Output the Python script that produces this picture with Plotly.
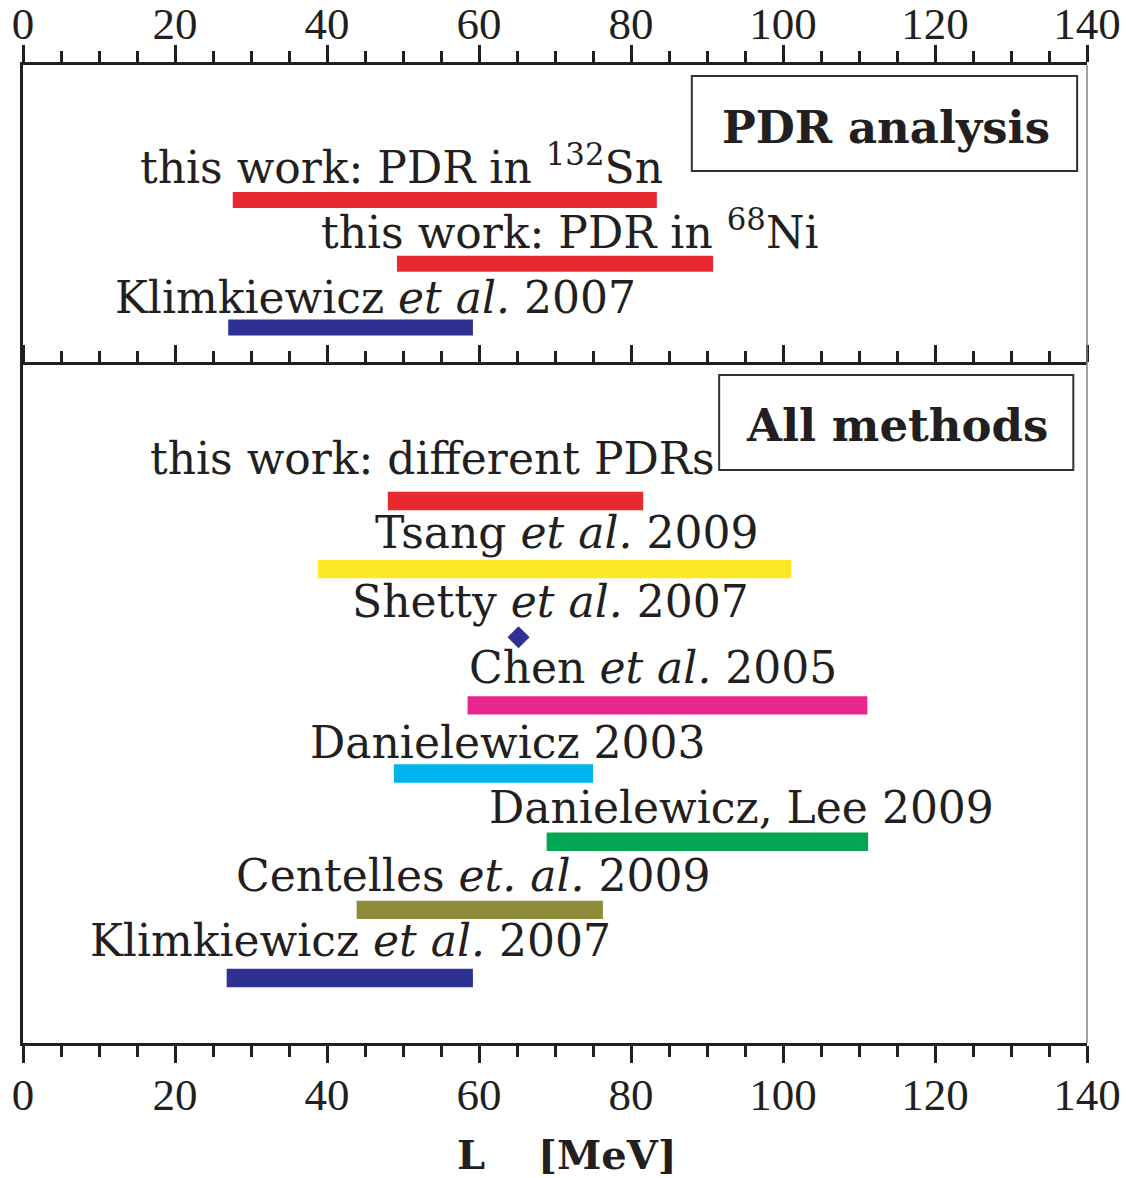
import plotly.graph_objects as go

# ---- Upper panel: PDR analysis ----
pdr_labels = [
    "Klimkiewicz <i>et al.</i> 2007",
    "this work: PDR in <sup>68</sup>Ni",
    "this work: PDR in <sup>132</sup>Sn",
]
pdr_low = [27.0, 49.2, 27.6]
pdr_high = [59.2, 90.8, 83.4]
pdr_colors = ["#2e3192", "#e8292f", "#e8292f"]

# ---- Lower panel: all methods ----
all_labels = [
    "Klimkiewicz <i>et al.</i> 2007",
    "Centelles <i>et. al.</i> 2009",
    "Danielewicz, Lee 2009",
    "Danielewicz 2003",
    "Chen <i>et al.</i> 2005",
    "Shetty <i>et al.</i> 2007",
    "Tsang <i>et al.</i> 2009",
    "this work: different PDRs",
]
all_low = [26.8, 43.9, 68.9, 48.8, 58.5, None, 38.8, 48.0]
all_high = [59.2, 76.3, 111.2, 75.0, 111.1, None, 101.1, 81.6]
all_colors = ["#2e3192", "#8e8b3a", "#00a650", "#00b5ee",
              "#e8268d", "#2e3192", "#fce825", "#e8292f"]
shetty_value = [65.2]  # single estimate, drawn as a point

# tick values of the L axis
x_range = [0, 140]
major_step = 20
minor_step = 5

# label placement (left edge in L units, vertical lift in px)
pdr_label_x = [11.8, 39.0, 15.1]
pdr_label_lift = [30, 34, 36]
all_label_x = [8.5, 27.7, 61.0, 37.5, 58.4, 43.0, 46.0, 16.5]
all_label_lift = [37, 34, 34, 31, 38, 36, 37, 42]

INK = "#231f20"
LABEL_FONT = dict(family="DejaVu Serif", size=44, color=INK)
TICK_FONT = dict(family="Liberation Serif", size=45, color=INK)

fig = go.Figure()

# upper panel bars
pdr_rows = list(range(len(pdr_labels)))
fig.add_trace(go.Bar(
    y=pdr_rows, x=[h - l for l, h in zip(pdr_low, pdr_high)], base=pdr_low,
    orientation="h", width=0.25, marker=dict(color=pdr_colors, line_width=0),
    xaxis="x2", yaxis="y2", showlegend=False, hoverinfo="skip",
))

# lower panel bars (ranges only)
all_rows = list(range(len(all_labels)))
bar_rows = [r for r, l in zip(all_rows, all_low) if l is not None]
bar_low = [l for l in all_low if l is not None]
bar_high = [h for h in all_high if h is not None]
bar_cols = [c for c, l in zip(all_colors, all_low) if l is not None]
fig.add_trace(go.Bar(
    y=bar_rows, x=[h - l for l, h in zip(bar_low, bar_high)], base=bar_low,
    orientation="h", width=0.27, marker=dict(color=bar_cols, line_width=0),
    xaxis="x", yaxis="y", showlegend=False, hoverinfo="skip",
))

# point estimate
shetty_row = all_labels.index("Shetty <i>et al.</i> 2007")
fig.add_trace(go.Scatter(
    x=shetty_value, y=[shetty_row], mode="markers",
    marker=dict(symbol="diamond", size=17, color=all_colors[shetty_row], line_width=0),
    xaxis="x", yaxis="y", showlegend=False, hoverinfo="skip",
))

annotations = []
for r, (txt, lx, lift) in enumerate(zip(pdr_labels, pdr_label_x, pdr_label_lift)):
    annotations.append(dict(x=lx, y=r, xref="x2", yref="y2", text=txt,
                            xanchor="left", yanchor="middle", yshift=lift,
                            showarrow=False, font=LABEL_FONT))
for r, (txt, lx, lift) in enumerate(zip(all_labels, all_label_x, all_label_lift)):
    annotations.append(dict(x=lx, y=r, xref="x", yref="y", text=txt,
                            xanchor="left", yanchor="middle", yshift=lift,
                            showarrow=False, font=LABEL_FONT))

# panel titles in framed boxes
BOX_FONT = dict(family="DejaVu Serif", size=45, color=INK)
annotations.append(dict(x=113.5, y=0.79, xref="x2", yref="y2 domain", text="<b>PDR analysis</b>",
                        xanchor="center", yanchor="middle", showarrow=False, font=BOX_FONT))
annotations.append(dict(x=115.0, y=0.91, xref="x", yref="y domain", text="<b>All methods</b>",
                        xanchor="center", yanchor="middle", showarrow=False, font=BOX_FONT))

# axis title
TITLE_FONT = dict(family="DejaVu Serif", size=40, color=INK)
annotations.append(dict(x=0.4214, y=-0.1145, xref="paper", yref="paper", text="<b>L</b>",
                        xanchor="center", yanchor="middle", showarrow=False, font=TITLE_FONT))
annotations.append(dict(x=0.5493, y=-0.1145, xref="paper", yref="paper", text="<b>[MeV]</b>",
                        xanchor="center", yanchor="middle", showarrow=False, font=TITLE_FONT))

shapes = [
    dict(type="rect", xref="x2", yref="y2 domain", x0=88.0, x1=138.7, y0=0.647, y1=0.963,
         line=dict(color="#333333", width=2), fillcolor="rgba(0,0,0,0)", layer="below"),
    dict(type="rect", xref="x", yref="y domain", x0=91.6, x1=138.2, y0=0.845, y1=0.985,
         line=dict(color="#333333", width=2), fillcolor="rgba(0,0,0,0)", layer="below"),
    dict(type="line", xref="paper", yref="paper", x0=1, x1=1, y0=0, y1=1,
         line=dict(color="#808080", width=1.5)),
]

axis_common = dict(
    range=x_range, tick0=0, dtick=major_step, ticks="outside", ticklen=17, tickwidth=3,
    tickcolor=INK, showline=True, linewidth=3, linecolor=INK, showgrid=False, zeroline=False,
    tickfont=TICK_FONT, automargin=False,
    minor=dict(dtick=minor_step, ticks="outside", ticklen=11, tickwidth=2.5, tickcolor=INK,
               showgrid=False),
)

split = 0.6933
fig.update_layout(
    width=1126, height=1178,
    margin=dict(l=23, r=39, t=65, b=135),
    paper_bgcolor="white", plot_bgcolor="white",
    barmode="overlay",
    xaxis=dict(anchor="y", side="bottom", mirror="ticks", ticklabelstandoff=-7, **axis_common),
    xaxis2=dict(anchor="y2", side="top", matches="x", mirror=False, ticklabelstandoff=-12, **axis_common),
    yaxis=dict(domain=[0, split], range=[-0.954, 8.996], showticklabels=False, ticks="",
               showgrid=False, zeroline=False, showline=True, linewidth=2.5, linecolor=INK,
               automargin=False),
    yaxis2=dict(domain=[split, 1], range=[-0.588, 4.118], showticklabels=False, ticks="",
                showgrid=False, zeroline=False, showline=True, linewidth=2.5, linecolor=INK,
                automargin=False),
    annotations=annotations,
    shapes=shapes,
)

fig.write_html("out.html")
